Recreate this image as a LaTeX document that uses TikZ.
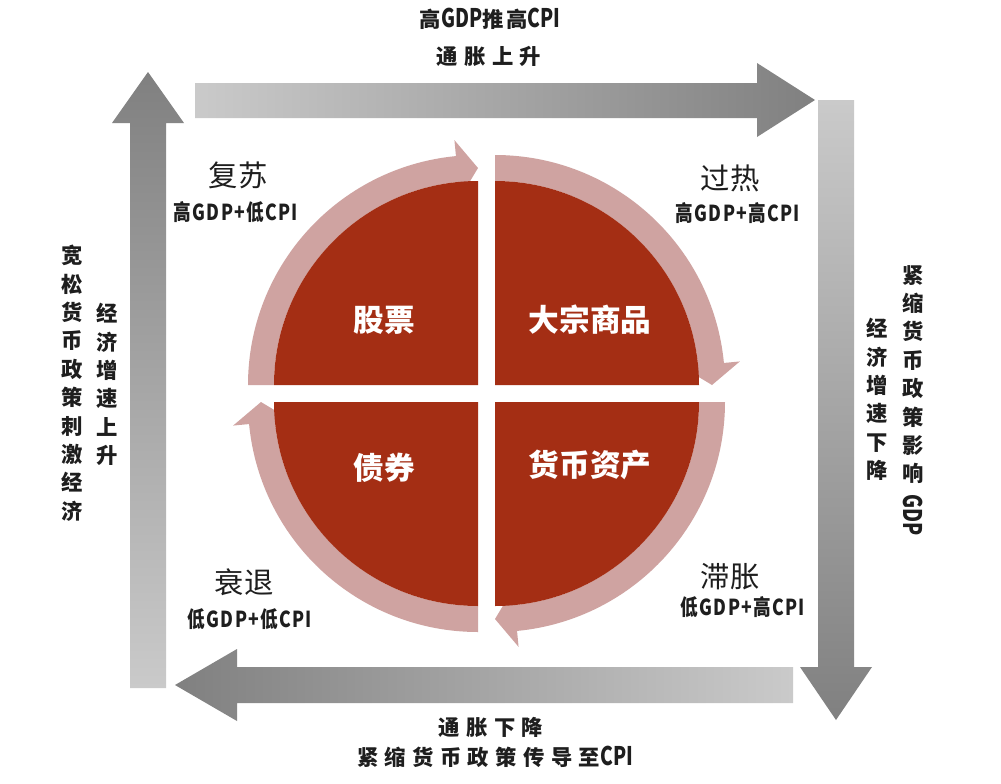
\documentclass[tikz,border=0pt]{standalone}
\usepackage{fontspec}
\setmainfont{Noto Sans CJK SC}
\newfontfamily\hz[LetterSpace=30]{Noto Sans CJK SC}
\newfontfamily\hzc[FakeStretch=0.8,LetterSpace=6]{Noto Sans CJK SC}
\newfontfamily\lat[FakeStretch=0.75,Scale=1.2]{Noto Sans CJK SC}
\usetikzlibrary{positioning}
\definecolor{qred}{RGB}{164,46,20}
\definecolor{rpink}{RGB}{207,163,161}
\definecolor{glight}{RGB}{202,202,202}
\definecolor{gdark}{RGB}{128,128,128}
\definecolor{tdark}{RGB}{30,30,30}
\newcommand\ringarr[3]{%
  \fill[rpink, shift={(#1,#2)}] ({#3}:230) arc[start angle={#3}, end angle={#3+84.5}, radius=230]
    -- ({#3+84.5}:246) -- ({#3+90}:217) -- ({#3+84.5}:188) -- ({#3+84.5}:204)
    arc[start angle={#3+84.5}, end angle={#3}, radius=204] -- cycle;}
\newcommand\quadr[3]{%
  \fill[qred, shift={(#1,#2)}] (0,0) -- ({#3}:204) arc[start angle={#3}, end angle={#3+90}, radius=204] -- cycle;}
\begin{document}
\begin{tikzpicture}[x=0.75pt,y=-0.75pt,
  qtitle/.style={text=tdark, inner sep=0pt, font=\fontsize{22}{24}\selectfont},
  qsub/.style={text=tdark, inner sep=0pt, font=\hzc\bfseries\fontsize{16.5}{18}\selectfont},
  inlab/.style={text=white, inner sep=0pt, font=\bfseries\fontsize{23}{25}\selectfont},
  htext/.style={text=tdark, inner sep=0pt, font=\hz\bfseries\fontsize{16}{18}\selectfont},
  vtext/.style={text=tdark, inner sep=0pt, anchor=north, align=center, font=\bfseries\fontsize{16}{21.3}\selectfont},
]
\useasboundingbox[fill=white] (0,0) rectangle (1001,783);

% big gray arrows
\shade[left color=glight, right color=gdark]
  (195,83) -- (757,83) -- (757,63) -- (815,100) -- (757,137) -- (757,118) -- (195,118) -- cycle;
\shade[top color=glight, bottom color=gdark]
  (818,100) -- (854,100) -- (854,667) -- (872,667) -- (836,720) -- (800,667) -- (818,667) -- cycle;
\shade[left color=gdark, right color=glight]
  (793,667) -- (793,703) -- (237,703) -- (237,721) -- (175,685) -- (237,649) -- (237,667) -- cycle;
\shade[top color=gdark, bottom color=glight]
  (130,688) -- (130,123) -- (112,123) -- (148,72) -- (184,123) -- (166,123) -- (166,688) -- cycle;

% ring arrows
\ringarr{478}{385}{180}
\ringarr{495}{385}{270}
\ringarr{495}{402}{0}
\ringarr{478}{402}{90}

% quadrants
\quadr{478}{385}{180}
\quadr{495}{385}{270}
\quadr{495}{402}{0}
\quadr{478}{402}{90}

% inner labels
\node[inlab] (gp) at (384,320) {股票};
\node[inlab] (dz) at (590,320) {大宗商品};
\node[inlab] (zq) at (384,468) {债券};
\node[inlab] (hb) at (590,465) {货币资产};

% quadrant titles
\node[qtitle] (fs) at (238,175) {复苏};
\node[qsub] (fss) at (236,212) {高GDP+低CPI};
\node[qtitle] (gr) at (730,178) {过热};
\node[qsub] (grs) at (738,213) {高GDP+高CPI};
\node[qtitle] (st) at (244,582) {衰退};
\node[qsub] (sts) at (250,619) {低GDP+低CPI};
\node[qtitle] (zz) at (730,577) {滞胀};
\node[qsub] (zzs) at (743,607) {低GDP+高CPI};

% top/bottom texts
\node[htext] (t1) at (490,19) {高{\lat GDP}推{\kern2pt}高{\lat CPI}};
\node[htext] (t2) at (489,56) {通胀上升};
\node[htext] (b1) at (491,727) {通胀下降};
\node[htext] (b2) at (495,757) {紧缩货币政策传导至{\lat CPI}};

% vertical texts
\node[vtext] (l1) at (72,245) {宽\\松\\货\\币\\政\\策\\刺\\激\\经\\济};
\node[vtext] (l2) at (107,303) {经\\济\\增\\速\\上\\升};
\node[vtext] (r1) at (877,318) {经\\济\\增\\速\\下\\降};
\node[vtext] (r2) at (913,265) {紧\\缩\\货\\币\\政\\策\\影\\响\\[-12pt]\rotatebox{-90}{\lat GDP}};
\end{tikzpicture}
\end{document}
